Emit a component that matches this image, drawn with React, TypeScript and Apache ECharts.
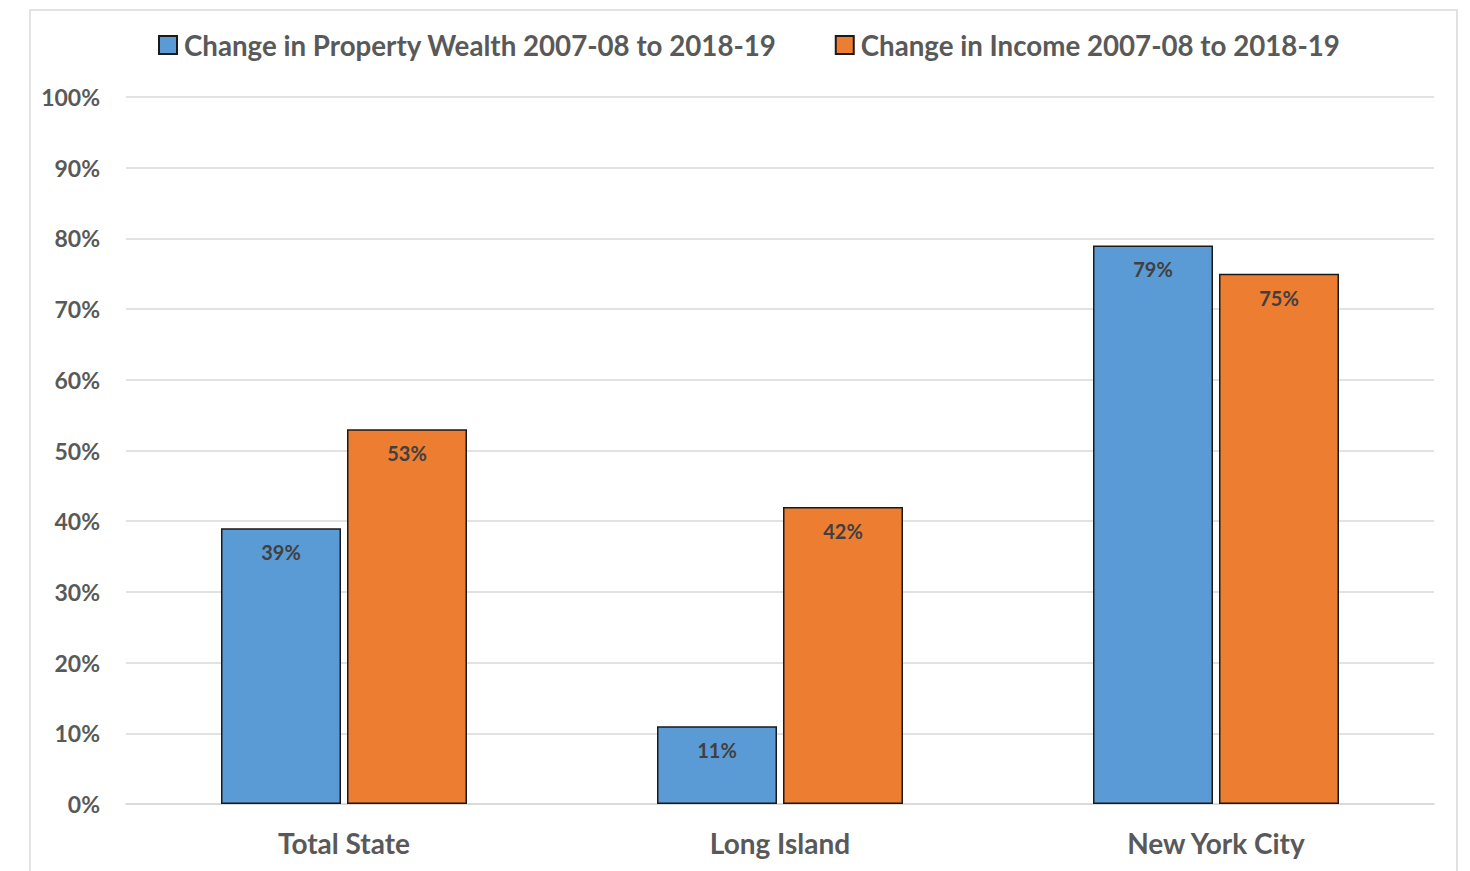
import React, { useEffect, useRef } from "react";
import * as echarts from "echarts";

const categories = ["Total State", "Long Island", "New York City"];
const propertyWealth = [39, 11, 79];
const income = [53, 42, 75];
const seriesNames = [
  "Change in Property Wealth 2007-08 to 2018-19",
  "Change in Income 2007-08 to 2018-19",
];

const FONT = "Lato, 'Open Sans', sans-serif";

export default function App() {
  const ref = useRef<HTMLDivElement>(null);
  useEffect(() => {
    if (!ref.current) return;
    const chart = echarts.init(ref.current, undefined, { renderer: "svg" });
    const label = {
      show: true,
      position: "insideTop",
      distance: 14,
      formatter: "{c}%",
      color: "#404040",
      fontWeight: "bold",
      fontSize: 20,
      fontFamily: FONT,
    };
    chart.setOption({
      animation: false,
      backgroundColor: "#ffffff",
      graphic: [
        {
          type: "rect",
          shape: { x: 30, y: 10, width: 1427, height: 880 },
          style: { fill: "none", stroke: "#d9d9d9", lineWidth: 1.5 },
          z: -10,
        },
      ],
      legend: {
        top: 26,
        left: 153,
        itemWidth: 18,
        itemHeight: 18,
        itemGap: 58,
        icon: "rect",
        textStyle: {
          fontSize: 27.7,
          fontWeight: "bold",
          color: "#595959",
          fontFamily: FONT,
          padding: [0, 0, 0, 2],
        },
        data: seriesNames,
      },
      grid: { left: 126, right: 36, top: 97, bottom: 67 },
      xAxis: {
        type: "category",
        data: categories,
        axisLine: { lineStyle: { color: "#d9d9d9", width: 1.5 } },
        axisTick: { show: false },
        axisLabel: {
          margin: 25,
          fontSize: 28,
          fontWeight: "bold",
          color: "#595959",
          fontFamily: FONT,
        },
      },
      yAxis: {
        type: "value",
        min: 0,
        max: 100,
        interval: 10,
        axisLine: { show: false },
        axisTick: { show: false },
        splitLine: { lineStyle: { color: "#d9d9d9", width: 1.5 } },
        axisLabel: {
          formatter: "{value}%",
          margin: 26,
          fontSize: 23,
          fontWeight: "bold",
          color: "#595959",
          fontFamily: FONT,
        },
      },
      series: [
        {
          name: seriesNames[0],
          type: "bar",
          data: propertyWealth,
          barWidth: 120,
          barGap: "5%",
          itemStyle: { color: "#5B9BD5", borderColor: "#1a1a1a", borderWidth: 1.5 },
          label,
        },
        {
          name: seriesNames[1],
          type: "bar",
          data: income,
          barWidth: 120,
          barGap: "5%",
          itemStyle: { color: "#ED7D31", borderColor: "#1a1a1a", borderWidth: 1.5 },
          label,
        },
      ],
    });
    return () => chart.dispose();
  }, []);
  return (
    <div
      ref={ref}
      style={{ position: "fixed", left: 0, top: 0, width: 1470, height: 871 }}
    />
  );
}
